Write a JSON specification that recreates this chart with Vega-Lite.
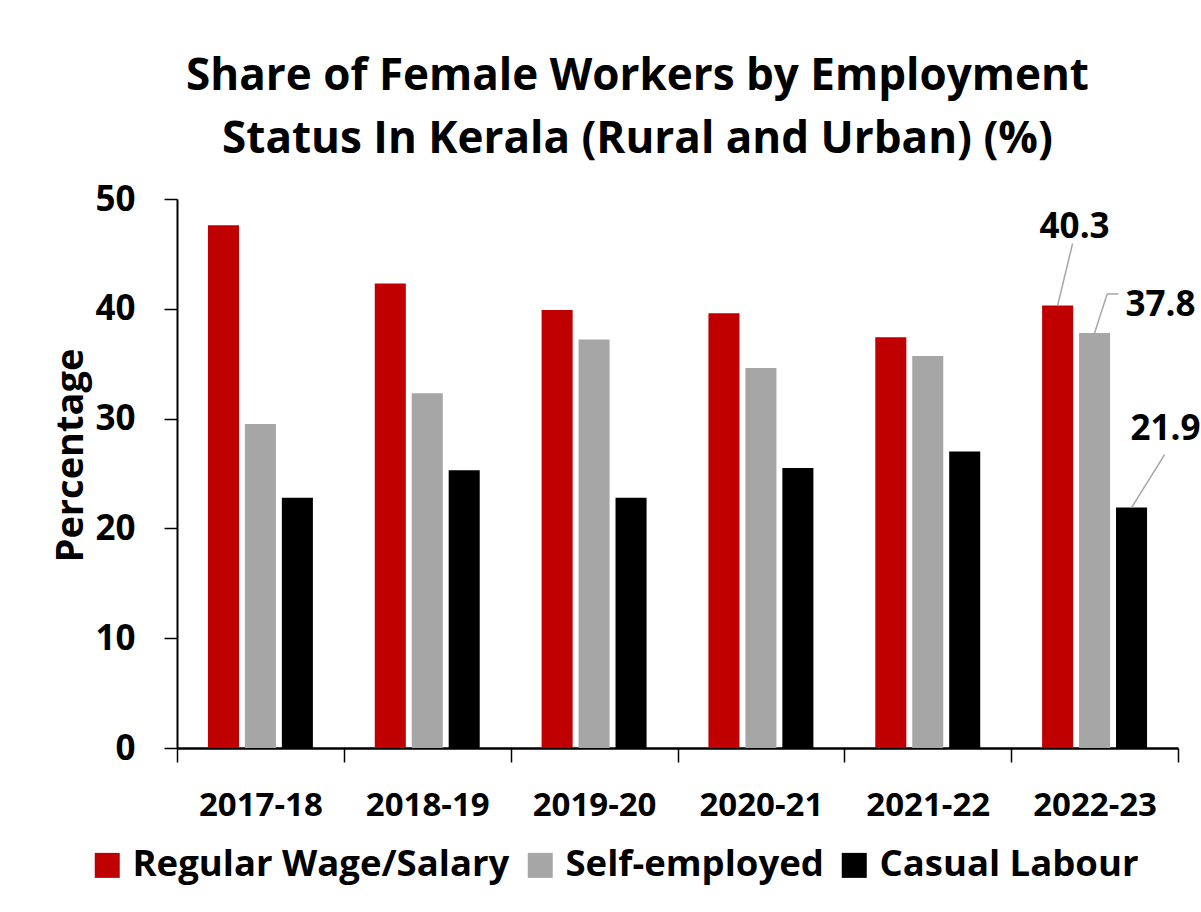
{
  "$schema": "https://vega.github.io/schema/vega-lite/v6.json",
  "width": 1001,
  "height": 549,
  "autosize": {"type": "none"},
  "padding": {"left": 177, "top": 199, "right": 23, "bottom": 164},
  "background": "white",
  "config": {
    "view": {"stroke": null},
    "font": "Open Sans"
  },
  "title": {
    "text": ["Share of Female Workers by Employment", "Status In Kerala (Rural and Urban) (%)"],
    "font": "Open Sans",
    "fontSize": 44,
    "fontWeight": "bold",
    "color": "black",
    "lineHeight": 63,
    "anchor": "middle",
    "frame": "group",
    "dx": -40,
    "offset": 20
  },
  "data": {
    "values": [
      {"year": "2017-18", "status": "Regular Wage/Salary", "value": 47.6},
      {"year": "2017-18", "status": "Self-employed", "value": 29.5},
      {"year": "2017-18", "status": "Casual Labour", "value": 22.8},
      {"year": "2018-19", "status": "Regular Wage/Salary", "value": 42.3},
      {"year": "2018-19", "status": "Self-employed", "value": 32.3},
      {"year": "2018-19", "status": "Casual Labour", "value": 25.3},
      {"year": "2019-20", "status": "Regular Wage/Salary", "value": 39.9},
      {"year": "2019-20", "status": "Self-employed", "value": 37.2},
      {"year": "2019-20", "status": "Casual Labour", "value": 22.8},
      {"year": "2020-21", "status": "Regular Wage/Salary", "value": 39.6},
      {"year": "2020-21", "status": "Self-employed", "value": 34.6},
      {"year": "2020-21", "status": "Casual Labour", "value": 25.5},
      {"year": "2021-22", "status": "Regular Wage/Salary", "value": 37.4},
      {"year": "2021-22", "status": "Self-employed", "value": 35.7},
      {"year": "2021-22", "status": "Casual Labour", "value": 27.0},
      {"year": "2022-23", "status": "Regular Wage/Salary", "value": 40.3},
      {"year": "2022-23", "status": "Self-employed", "value": 37.8},
      {"year": "2022-23", "status": "Casual Labour", "value": 21.9}
    ]
  },
  "encoding": {
    "y": {
      "field": "value",
      "type": "quantitative",
      "scale": {"domain": [0, 50], "nice": false},
      "axis": {
        "title": "Percentage",
        "titleFont": "Open Sans",
        "titleFontSize": 38,
        "titleFontWeight": "bold",
        "titleColor": "black",
        "titlePadding": 4,
        "titleY": 256,
        "values": [0, 10, 20, 30, 40, 50],
        "grid": false,
        "labelFont": "Open Sans",
        "labelFontWeight": "bold",
        "labelFontSize": 35,
        "labelColor": "black",
        "labelPadding": 29,
        "tickSize": 13,
        "tickWidth": 1.5,
        "tickColor": "black",
        "domainColor": "black",
        "domainWidth": 2
      }
    }
  },
  "layer": [
    {
      "mark": {"type": "bar"},
      "encoding": {
        "x": {
          "field": "year",
          "type": "nominal",
          "sort": null,
          "scale": {"paddingInner": 0, "paddingOuter": 0},
          "axis": {
            "title": null,
            "labelAngle": 0,
            "labelFont": "Open Sans",
            "labelFontWeight": "bold",
            "labelFontSize": 33,
            "labelColor": "black",
            "labelPadding": 27,
            "tickBand": "extent",
            "tickSize": 14,
            "tickWidth": 1.5,
            "tickColor": "black",
            "domainColor": "black",
            "domainWidth": 2.5
          }
        },
        "xOffset": {
          "field": "status",
          "type": "nominal",
          "sort": ["Regular Wage/Salary", "Self-employed", "Casual Labour"],
          "scale": {"paddingInner": 0.16, "paddingOuter": 0.837}
        },
        "color": {
          "field": "status",
          "type": "nominal",
          "sort": ["Regular Wage/Salary", "Self-employed", "Casual Labour"],
          "scale": {
            "domain": ["Regular Wage/Salary", "Self-employed", "Casual Labour"],
            "range": ["#C00000", "#A6A6A6", "#000000"]
          },
          "legend": {
            "title": null,
            "orient": "none",
            "direction": "horizontal",
            "legendX": -88,
            "legendY": 648,
            "padding": 0,
            "symbolType": "square",
            "symbolSize": 625,
            "symbolStrokeWidth": 0,
            "symbolOpacity": 1,
            "labelFont": "Open Sans",
            "labelFontWeight": "bold",
            "labelFontSize": 36.5,
            "labelColor": "black",
            "labelOffset": 7,
            "columnPadding": 12,
            "labelLimit": 500
          }
        }
      }
    },
    {
      "transform": [{"filter": "datum.year == '2022-23' && datum.status == 'Regular Wage/Salary'"}],
      "mark": {"type": "rule", "color": "#A6A6A6", "strokeWidth": 1.5, "x2Offset": -22, "y2Offset": -62},
      "encoding": {
        "x": {"field": "year", "type": "nominal"},
        "xOffset": {"field": "status", "type": "nominal", "sort": ["Regular Wage/Salary", "Self-employed", "Casual Labour"]},
        "x2": {"field": "year"},
        "y2": {"field": "value"}
      }
    },
    {
      "transform": [{"filter": "datum.year == '2022-23' && datum.status == 'Self-employed'"}],
      "mark": {"type": "rule", "color": "#A6A6A6", "strokeWidth": 1.5, "x2Offset": 12.6, "y2Offset": -39},
      "encoding": {
        "x": {"field": "year", "type": "nominal"},
        "xOffset": {"field": "status", "type": "nominal", "sort": ["Regular Wage/Salary", "Self-employed", "Casual Labour"]},
        "x2": {"field": "year"},
        "y2": {"field": "value"}
      }
    },
    {
      "transform": [{"filter": "datum.year == '2022-23' && datum.status == 'Self-employed'"}],
      "mark": {"type": "rule", "color": "#A6A6A6", "strokeWidth": 1.5, "xOffset": 12.6, "x2Offset": 24, "yOffset": -39, "y2Offset": -39},
      "encoding": {
        "x": {"field": "year", "type": "nominal"},
        "x2": {"field": "year"},
        "y2": {"field": "value"}
      }
    },
    {
      "transform": [{"filter": "datum.year == '2022-23' && datum.status == 'Casual Labour'"}],
      "mark": {"type": "rule", "color": "#A6A6A6", "strokeWidth": 1.5, "x2Offset": 70, "y2Offset": -53},
      "encoding": {
        "x": {"field": "year", "type": "nominal"},
        "xOffset": {"field": "status", "type": "nominal", "sort": ["Regular Wage/Salary", "Self-employed", "Casual Labour"]},
        "x2": {"field": "year"},
        "y2": {"field": "value"}
      }
    },
    {
      "transform": [{"filter": "datum.year == '2022-23' && datum.status == 'Regular Wage/Salary'"}],
      "mark": {"type": "text", "font": "Open Sans", "fontWeight": "bold", "fontSize": 35, "color": "black", "dx": 17, "dy": -68, "baseline": "alphabetic"},
      "encoding": {
        "x": {"field": "year", "type": "nominal"},
        "xOffset": {"field": "status", "type": "nominal", "sort": ["Regular Wage/Salary", "Self-employed", "Casual Labour"]},
        "text": {"field": "value", "format": ".1f"}
      }
    },
    {
      "transform": [{"filter": "datum.year == '2022-23' && datum.status == 'Self-employed'"}],
      "mark": {"type": "text", "font": "Open Sans", "fontWeight": "bold", "fontSize": 35, "color": "black", "dx": 66, "dy": -17, "baseline": "alphabetic"},
      "encoding": {
        "x": {"field": "year", "type": "nominal"},
        "xOffset": {"field": "status", "type": "nominal", "sort": ["Regular Wage/Salary", "Self-employed", "Casual Labour"]},
        "text": {"field": "value", "format": ".1f"}
      }
    },
    {
      "transform": [{"filter": "datum.year == '2022-23' && datum.status == 'Casual Labour'"}],
      "mark": {"type": "text", "font": "Open Sans", "fontWeight": "bold", "fontSize": 35, "color": "black", "dx": 34, "dy": -68, "baseline": "alphabetic"},
      "encoding": {
        "x": {"field": "year", "type": "nominal"},
        "xOffset": {"field": "status", "type": "nominal", "sort": ["Regular Wage/Salary", "Self-employed", "Casual Labour"]},
        "text": {"field": "value", "format": ".1f"}
      }
    }
  ]
}
